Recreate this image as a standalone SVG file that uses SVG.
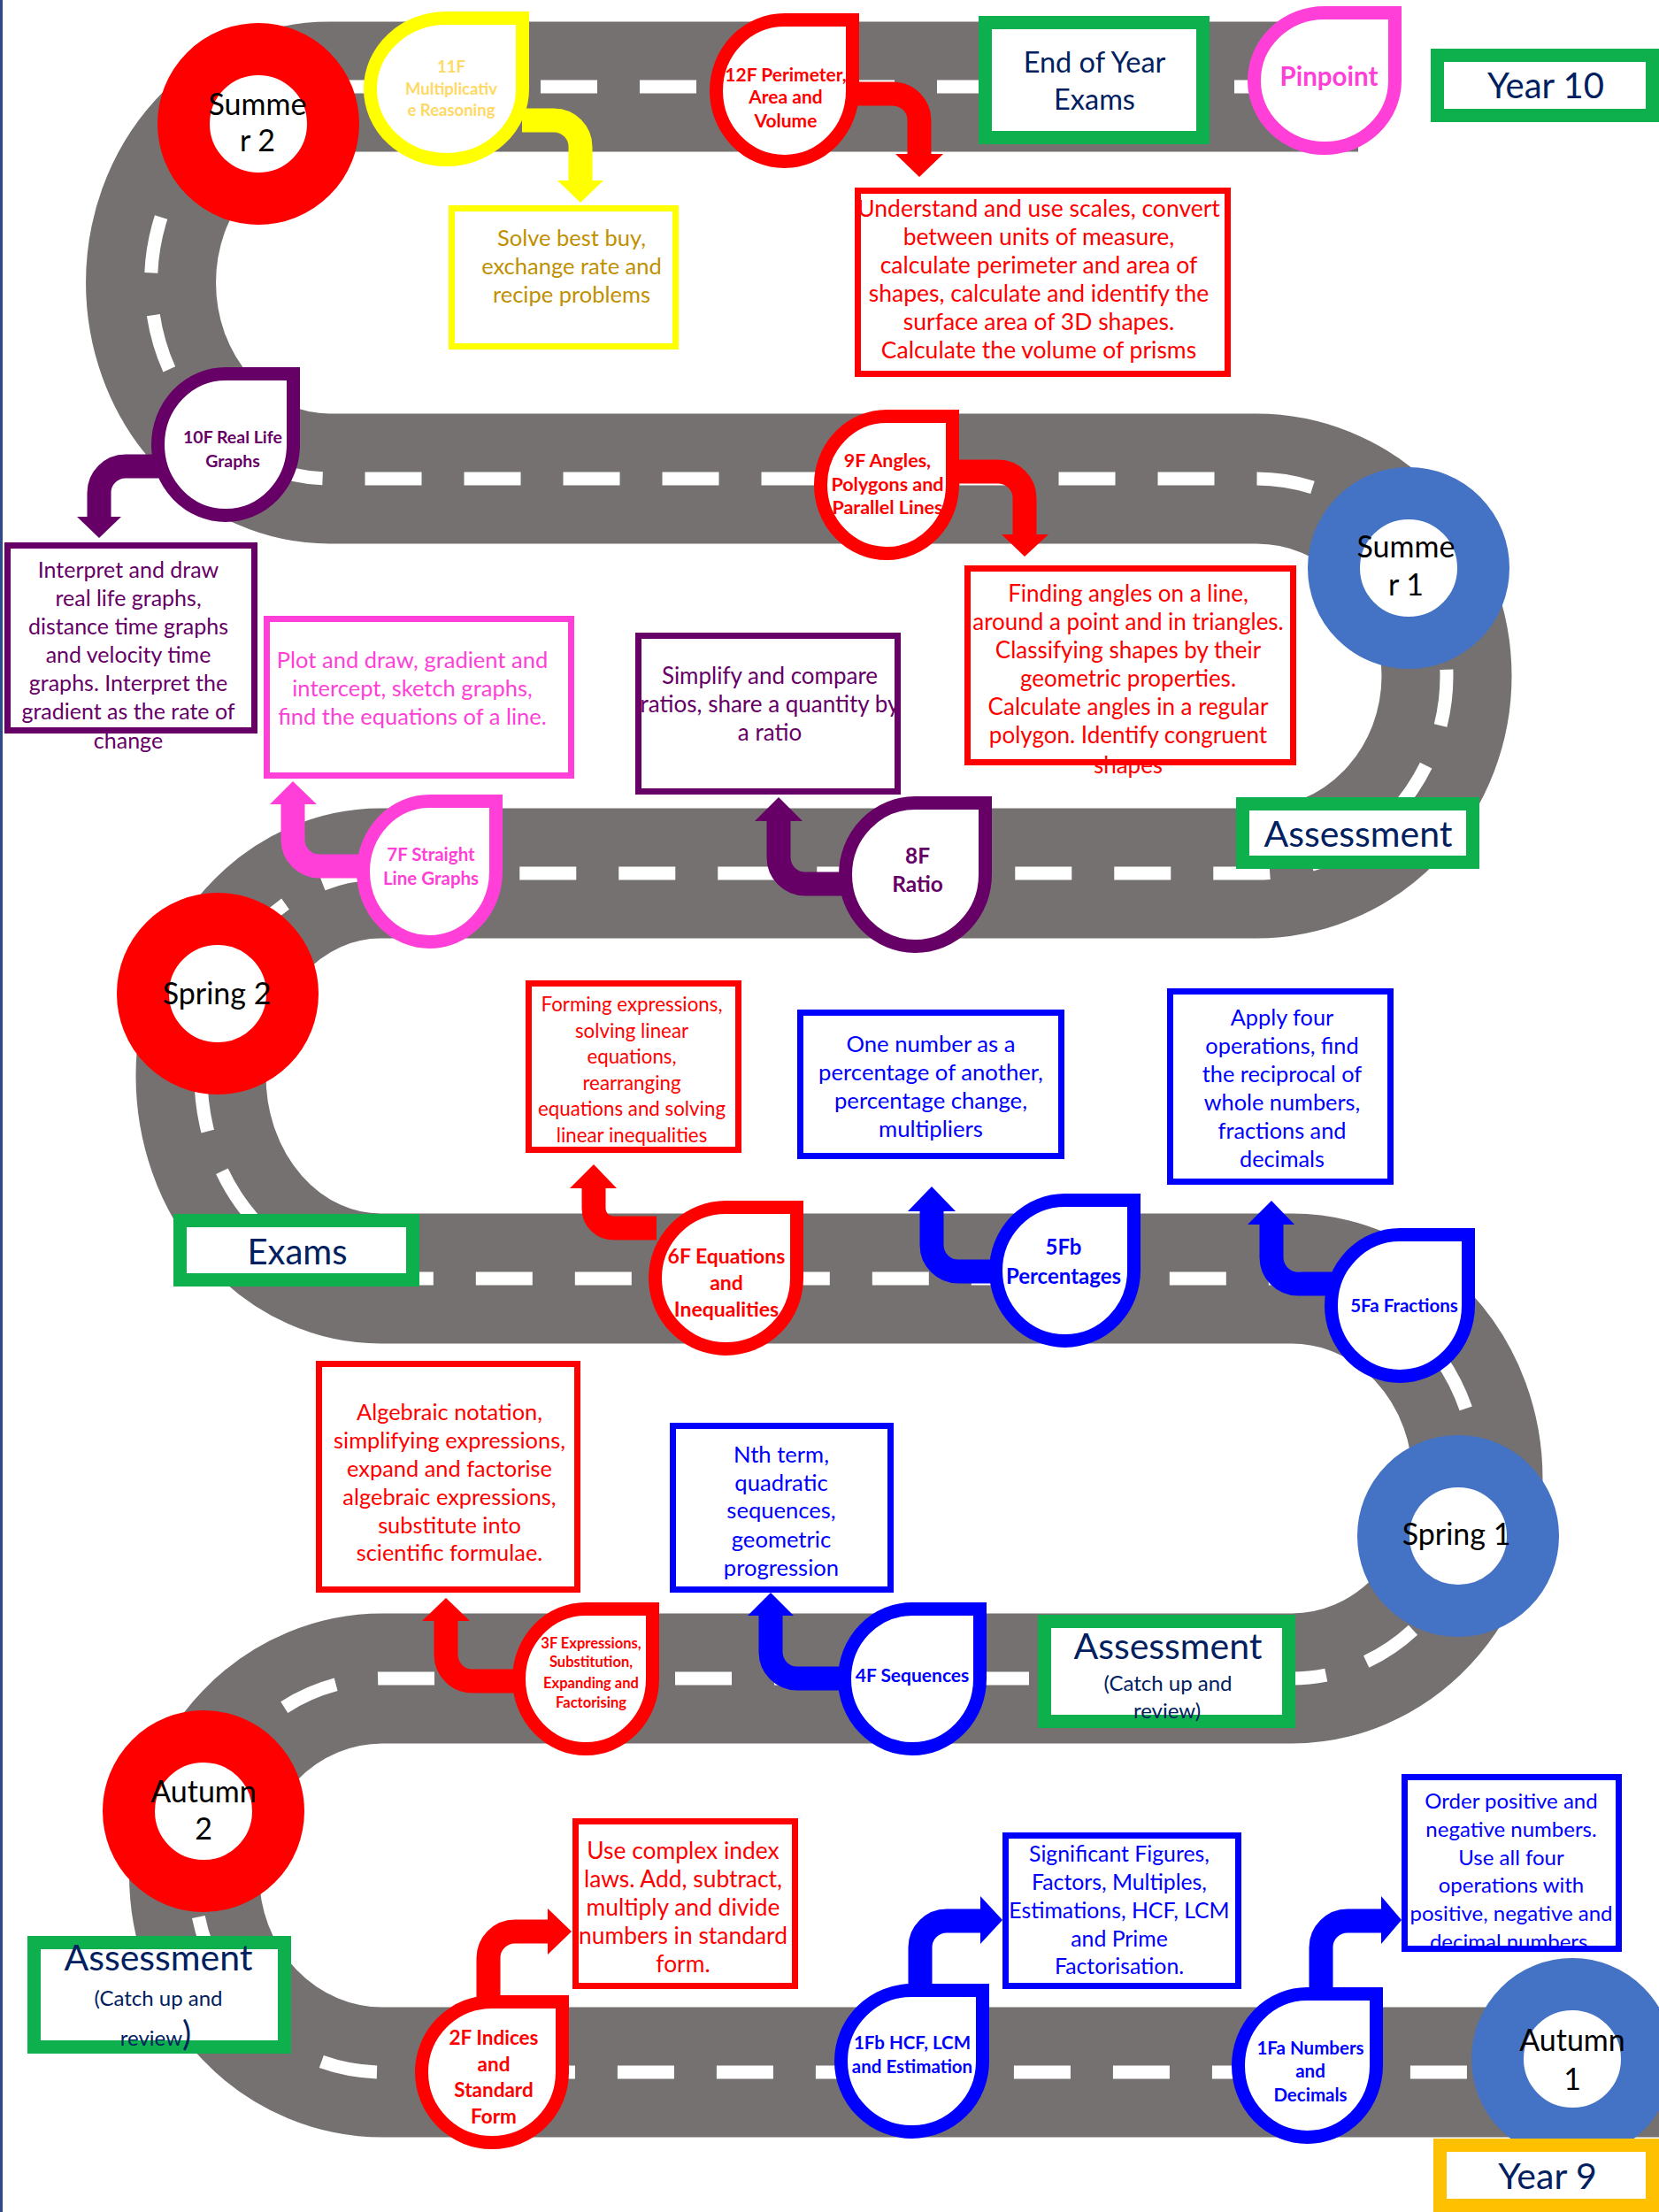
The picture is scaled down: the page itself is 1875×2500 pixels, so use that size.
<svg xmlns="http://www.w3.org/2000/svg" width="1875" height="2500" viewBox="0 0 1875 2500">
<style>
text{font-family:Lato,"Open Sans","Liberation Sans",sans-serif;text-anchor:middle}
.road{fill:none;stroke:#767171;stroke-width:147}
.dash{fill:none;stroke:#fff;stroke-width:15;stroke-dasharray:64 48;stroke-dashoffset:36}
.ring{fill:#fff;stroke-width:59}
.rr{stroke:#FF0000}.rb{stroke:#4472C4}
.ct{font-size:34px;fill:#000}
.box{fill:#fff;stroke-width:7}
.frame{fill:none;stroke-width:7}
.gbox{fill:#fff;stroke:#0EB04E;stroke-width:15}
.drop{fill:#fff;stroke-width:15;stroke-linejoin:miter}
.arr{fill:none;stroke-width:27}
.dt{font-weight:bold}
.nv{fill:#002060}
.sRed{stroke:#FF0000}.fRed{fill:#FF0000}
.sBlue{stroke:#0000FF}.fBlue{fill:#0000FF}
.sPur{stroke:#660066}.fPur{fill:#660066}
.sPink{stroke:#FF3FD7}.fPink{fill:#FF3FD7}
.sYel{stroke:#FFFF00}.fYel{fill:#FFFF00}
</style>
<rect x="0" y="0" width="1875" height="2500" fill="#fff"/>
<line x1="1.5" y1="0" x2="1.5" y2="2500" stroke="#2E4A8A" stroke-width="3"/>
<g id="road">
<path class="road" d="M1535,98 L372,98 A201 221 0 0 0 372,541 L1420,541 A215 223 0 0 1 1420,987 L430,987 A203 229 0 0 0 430,1445 L1460,1445 A210 226 0 0 1 1460,1897 L432,1897 A212 222 0 0 0 432,2342 L1875,2342"/>
<path class="dash" d="M1535,98 L372,98 A201 221 0 0 0 372,541 L1420,541 A215 223 0 0 1 1420,987 L430,987 A203 229 0 0 0 430,1445 L1460,1445 A210 226 0 0 1 1460,1897 L432,1897 A212 222 0 0 0 432,2342 L1875,2342"/>
</g>
<g id="terms">
<g id="summer2"><circle class="ring rr" cx="292" cy="140" r="84.5"/><text class="ct" x="291" y="130">Summe</text><text class="ct" x="291" y="171">r 2</text></g>
<g id="summer1"><circle class="ring rb" cx="1592" cy="642" r="84.5"/><text class="ct" x="1589" y="630">Summe</text><text class="ct" x="1589" y="673">r 1</text></g>
<g id="spring2"><circle class="ring rr" cx="246" cy="1123" r="84.5"/><text class="ct" x="245" y="1135">Spring 2</text></g>
<g id="spring1"><circle class="ring rb" cx="1648" cy="1736" r="84.5"/><text class="ct" x="1646" y="1746">Spring 1</text></g>
<g id="autumn2"><circle class="ring rr" cx="230" cy="2047" r="84.5"/><text class="ct" x="230" y="2037">Autumn</text><text class="ct" x="230" y="2079">2</text></g>
<g id="autumn1"><circle class="ring rb" cx="1777" cy="2327" r="84.5"/><text class="ct" x="1777" y="2318">Autumn</text><text class="ct" x="1777" y="2362">1</text></g>
</g>
<g id="milestones">
<g id="endOfYearExams"><rect class="gbox" x="1113.5" y="25.5" width="246" height="130"/><text class="nv" font-size="32.5" x="1237" y="82">End of Year</text><text class="nv" font-size="32.5" x="1237" y="124">Exams</text></g>
<g id="year10"><rect class="gbox" x="1624.5" y="62.5" width="243" height="68"/><text class="nv" font-size="40" x="1747" y="111">Year 10</text></g>
<g id="assessment1"><rect class="gbox" x="1404.5" y="908.5" width="260" height="66"/><text class="nv" font-size="41" x="1535" y="957">Assessment</text></g>
<g id="exams"><rect class="gbox" x="203.5" y="1379.5" width="263" height="67"/><text class="nv" font-size="40" x="336" y="1429">Exams</text></g>
<g id="assessment2"><rect class="gbox" x="1180.5" y="1832.5" width="276" height="113"/><text class="nv" font-size="41" x="1320" y="1875">Assessment</text><text class="nv" font-size="24" x="1320" y="1911">(Catch up and</text><text class="nv" font-size="24" x="1319" y="1942">review)</text></g>
<g id="assessment3"><rect class="gbox" x="38.5" y="2195.5" width="283" height="118"/><text class="nv" font-size="41" x="179" y="2227">Assessment</text><text class="nv" font-size="24" x="179" y="2267">(Catch up and</text><text class="nv" font-size="24" x="176" y="2312">review<tspan font-size="38">)</tspan></text></g>
<g id="year9"><rect x="1627.5" y="2424.5" width="240" height="68" fill="#fff" stroke="#FFC000" stroke-width="15"/><text class="nv" font-size="41" x="1749" y="2474">Year 9</text></g>
</g>
<g id="connectors">
<path class="arr sYel" d="M590,136 H626 A30 30 0 0 1 656,166 V206"/><polygon class="fYel" points="630,204 682,204 656,229"/>
<path class="arr sRed" d="M965,106 H1009 A30 30 0 0 1 1039,136 V176"/><polygon class="fRed" points="1012,174 1066,174 1039,200"/>
<path class="arr sPur" d="M180,527 H142 A30 30 0 0 0 112,557 V586"/><polygon class="fPur" points="87,584 137,584 112,608"/>
<path class="arr sRed" d="M1078,533 H1128 A30 30 0 0 1 1158,563 V606"/><polygon class="fRed" points="1132,604 1185,604 1158,629"/>
<path class="arr sPur" d="M955,999 H910 A30 30 0 0 1 880,969 V926"/><polygon class="fPur" points="853,928 907,928 880,901"/>
<path class="arr sPink" d="M412,979 H361 A30 30 0 0 1 331,949 V907"/><polygon class="fPink" points="305,909 358,909 331,883"/>
<path class="arr sRed" d="M742,1388 H693 A22 22 0 0 1 671,1366 V1341"/><polygon class="fRed" points="644,1343 697,1343 671,1316"/>
<path class="arr sBlue" d="M1127,1437 H1083 A30 30 0 0 1 1053,1407 V1367"/><polygon class="fBlue" points="1026,1369 1080,1369 1053,1341"/>
<path class="arr sBlue" d="M1506,1451 H1467 A30 30 0 0 1 1437,1421 V1382"/><polygon class="fBlue" points="1410,1384 1463,1384 1437,1357"/>
<path class="arr sRed" d="M588,1900 H534 A30 30 0 0 1 504,1870 V1830"/><polygon class="fRed" points="477,1832 531,1832 504,1806"/>
<path class="arr sBlue" d="M956,1897 H901 A30 30 0 0 1 871,1867 V1824"/><polygon class="fBlue" points="845,1826 897,1826 871,1800"/>
<path class="arr sRed" d="M552,2266 V2213 A30 30 0 0 1 582,2183 H621"/><polygon class="fRed" points="619,2157 619,2209 646,2183"/>
<path class="arr sBlue" d="M1040,2250 V2201 A30 30 0 0 1 1070,2171 H1110"/><polygon class="fBlue" points="1108,2143 1108,2197 1133,2170"/>
<path class="arr sBlue" d="M1493,2254 V2201 A30 30 0 0 1 1523,2171 H1563"/><polygon class="fBlue" points="1561,2143 1561,2197 1584,2170"/>
</g>
<g id="units">
<g id="u11F"><path class="drop sYel" d="M504.5,20.5 H590.5 V100.5 A86 80 0 0 1 504.5,180.5 A86 80 0 0 1 418.5,100.5 A86 80 0 0 1 504.5,20.5 Z"/>
<text class="dt" font-size="18.5" fill="#FFD966" x="510" y="82">11F</text><text class="dt" font-size="18.5" fill="#FFD966" x="510" y="107">Multiplicativ</text><text class="dt" font-size="18.5" fill="#FFD966" x="510" y="131">e Reasoning</text></g>
<g id="u12F"><path class="drop sRed" d="M886.5,22.5 H963.5 V102.5 A77 80 0 0 1 886.5,182.5 A77 80 0 0 1 809.5,102.5 A77 80 0 0 1 886.5,22.5 Z"/>
<text class="dt fRed" font-size="21" x="888" y="92">12F Perimeter,</text><text class="dt fRed" font-size="21" x="888" y="117">Area and</text><text class="dt fRed" font-size="21" x="888" y="144">Volume</text></g>
<g id="pinpoint"><path class="drop sPink" d="M1497,14.5 H1576.5 V91 A79.5 76.5 0 0 1 1497,167.5 A79.5 76.5 0 0 1 1417.5,91 A79.5 76.5 0 0 1 1497,14.5 Z"/>
<text class="dt fPink" font-size="29.5" x="1502" y="97">Pinpoint</text></g>
<g id="u10F"><path class="drop sPur" d="M255,422.5 H331.5 V502.5 A76.5 80 0 0 1 255,582.5 A76.5 80 0 0 1 178.5,502.5 A76.5 80 0 0 1 255,422.5 Z"/>
<text class="dt fPur" font-size="19.5" x="263" y="501">10F Real Life</text><text class="dt fPur" font-size="19.5" x="263" y="528">Graphs</text></g>
<g id="u9F"><path class="drop sRed" d="M1002,470.5 H1076.5 V548 A74.5 77.5 0 0 1 1002,625.5 A74.5 77.5 0 0 1 927.5,548 A74.5 77.5 0 0 1 1002,470.5 Z"/>
<text class="dt fRed" font-size="21.5" x="1003" y="528">9F Angles,</text><text class="dt fRed" font-size="21.5" x="1003" y="555">Polygons and</text><text class="dt fRed" font-size="21.5" x="1003" y="581">Parallel Lines</text></g>
<g id="u8F"><path class="drop sPur" d="M1034.5,907.5 H1113.5 V988.5 A79 81 0 0 1 1034.5,1069.5 A79 81 0 0 1 955.5,988.5 A79 81 0 0 1 1034.5,907.5 Z"/>
<text class="dt fPur" font-size="24.5" x="1037" y="976">8F</text><text class="dt fPur" font-size="24.5" x="1037" y="1008">Ratio</text></g>
<g id="u7F"><path class="drop sPink" d="M485.5,905.5 H560.5 V985 A75 79.5 0 0 1 485.5,1064.5 A75 79.5 0 0 1 410.5,985 A75 79.5 0 0 1 485.5,905.5 Z"/>
<text class="dt fPink" font-size="20.5" x="487" y="973">7F Straight</text><text class="dt fPink" font-size="20.5" x="487" y="1000">Line Graphs</text></g>
<g id="u6F"><path class="drop sRed" d="M820.5,1364.5 H900.5 V1444.5 A80 80 0 0 1 820.5,1524.5 A80 80 0 0 1 740.5,1444.5 A80 80 0 0 1 820.5,1364.5 Z"/>
<text class="dt fRed" font-size="23" x="821" y="1428">6F Equations</text><text class="dt fRed" font-size="23" x="821" y="1458">and</text><text class="dt fRed" font-size="23" x="821" y="1488">Inequalities</text></g>
<g id="u5Fb"><path class="drop sBlue" d="M1203.5,1356.5 H1281.5 V1436 A78 79.5 0 0 1 1203.5,1515.5 A78 79.5 0 0 1 1125.5,1436 A78 79.5 0 0 1 1203.5,1356.5 Z"/>
<text class="dt fBlue" font-size="24" x="1202" y="1418">5Fb</text><text class="dt fBlue" font-size="24" x="1202" y="1451">Percentages</text></g>
<g id="u5Fa"><path class="drop sBlue" d="M1582,1395.5 H1659.5 V1475.5 A77.5 80 0 0 1 1582,1555.5 A77.5 80 0 0 1 1504.5,1475.5 A77.5 80 0 0 1 1582,1395.5 Z"/>
<text class="dt fBlue" font-size="20.5" x="1587" y="1483">5Fa Fractions</text></g>
<g id="u3F"><path class="drop sRed" d="M662,1818.5 H737.5 V1897.5 A75.5 79 0 0 1 662,1976.5 A75.5 79 0 0 1 586.5,1897.5 A75.5 79 0 0 1 662,1818.5 Z"/>
<text class="dt fRed" font-size="16.5" x="668" y="1863">3F Expressions,</text><text class="dt fRed" font-size="16.5" x="668" y="1884">Substitution,</text><text class="dt fRed" font-size="16.5" x="668" y="1908">Expanding and</text><text class="dt fRed" font-size="16.5" x="668" y="1930">Factorising</text></g>
<g id="u4F"><path class="drop sBlue" d="M1031,1818.5 H1107.5 V1897.5 A76.5 79 0 0 1 1031,1976.5 A76.5 79 0 0 1 954.5,1897.5 A76.5 79 0 0 1 1031,1818.5 Z"/>
<text class="dt fBlue" font-size="21" x="1031" y="1901">4F Sequences</text></g>
<g id="u2F"><path class="drop sRed" d="M556,2262.5 H635.5 V2342 A79.5 79.5 0 0 1 556,2421.5 A79.5 79.5 0 0 1 476.5,2342 A79.5 79.5 0 0 1 556,2262.5 Z"/>
<text class="dt fRed" font-size="22.5" x="558" y="2311">2F Indices</text><text class="dt fRed" font-size="22.5" x="558" y="2341">and</text><text class="dt fRed" font-size="22.5" x="558" y="2370">Standard</text><text class="dt fRed" font-size="22.5" x="558" y="2400">Form</text></g>
<g id="u1Fb"><path class="drop sBlue" d="M1030.5,2249.5 H1110.5 V2329.5 A80 80 0 0 1 1030.5,2409.5 A80 80 0 0 1 950.5,2329.5 A80 80 0 0 1 1030.5,2249.5 Z"/>
<text class="dt fBlue" font-size="20.5" x="1031" y="2316">1Fb HCF, LCM</text><text class="dt fBlue" font-size="20.5" x="1031" y="2343">and Estimation</text></g>
<g id="u1Fa"><path class="drop sBlue" d="M1477.5,2253.5 H1555.5 V2334.5 A78 81 0 0 1 1477.5,2415.5 A78 81 0 0 1 1399.5,2334.5 A78 81 0 0 1 1477.5,2253.5 Z"/>
<text class="dt fBlue" font-size="20.5" x="1481" y="2322">1Fa Numbers</text><text class="dt fBlue" font-size="20.5" x="1481" y="2348">and</text><text class="dt fBlue" font-size="20.5" x="1481" y="2375">Decimals</text></g>
</g>
<g id="details">
<g id="d11F" font-size="25.5"><rect class="box sYel" x="510.5" y="235.5" width="253" height="156"/>
<text fill="#BF9000" x="646" y="278">Solve best buy,</text><text fill="#BF9000" x="646" y="310">exchange rate and</text><text fill="#BF9000" x="646" y="342">recipe problems</text></g>
<g id="d12F" font-size="26.5"><rect class="box sRed" x="969.5" y="215.5" width="418" height="207"/>
<text class="fRed" x="1174" y="245">Understand and use scales, convert</text><text class="fRed" x="1174" y="277">between units of measure,</text><text class="fRed" x="1174" y="309">calculate perimeter and area of</text><text class="fRed" x="1174" y="341">shapes, calculate and identify the</text><text class="fRed" x="1174" y="373">surface area of 3D shapes.</text><text class="fRed" x="1174" y="405">Calculate the volume of prisms</text></g>
<g id="d10F" font-size="25"><rect class="box sPur" x="8.5" y="616.5" width="279" height="209"/>
<text class="fPur" x="145" y="653">Interpret and draw</text><text class="fPur" x="145" y="685">real life graphs,</text><text class="fPur" x="145" y="717">distance time graphs</text><text class="fPur" x="145" y="749">and velocity time</text><text class="fPur" x="145" y="781">graphs. Interpret the</text><text class="fPur" x="145" y="813">gradient as the rate of</text><text class="fPur" x="145" y="846">change</text></g>
<g id="d7F" font-size="25.5"><rect class="box sPink" x="301.5" y="699.5" width="344" height="177"/>
<text class="fPink" x="466" y="755">Plot and draw, gradient and</text><text class="fPink" x="466" y="787">intercept, sketch graphs,</text><text class="fPink" x="466" y="819">find the equations of a line.</text></g>
<g id="d8F" font-size="26"><rect class="box sPur" x="721.5" y="718.5" width="293" height="176"/>
<text class="fPur" x="870" y="773">Simplify and compare</text><text class="fPur" x="870" y="805">ratios, share a quantity by</text><text class="fPur" x="870" y="837">a ratio</text></g>
<g id="d9F" font-size="26">
<text class="fRed" x="1275" y="680">Finding angles on a line,</text><text class="fRed" x="1275" y="712">around a point and in triangles.</text><text class="fRed" x="1275" y="744">Classifying shapes by their</text><text class="fRed" x="1275" y="776">geometric properties.</text><text class="fRed" x="1275" y="808">Calculate angles in a regular</text><text class="fRed" x="1275" y="840">polygon. Identify congruent</text><text class="fRed" x="1275" y="874">shapes</text>
<rect class="frame sRed" x="1093.5" y="642.5" width="368" height="219"/></g>
<g id="d6F" font-size="22.3"><rect class="box sRed" x="597.5" y="1111.5" width="237" height="188"/>
<text class="fRed" x="714" y="1143">Forming expressions,</text><text class="fRed" x="714" y="1173">solving linear</text><text class="fRed" x="714" y="1202">equations,</text><text class="fRed" x="714" y="1232">rearranging</text><text class="fRed" x="714" y="1261">equations and solving</text><text class="fRed" x="714" y="1291">linear inequalities</text></g>
<g id="d5Fb" font-size="25.7"><rect class="box sBlue" x="904.5" y="1144.5" width="295" height="162"/>
<text class="fBlue" x="1052" y="1189">One number as a</text><text class="fBlue" x="1052" y="1221">percentage of another,</text><text class="fBlue" x="1052" y="1253">percentage change,</text><text class="fBlue" x="1052" y="1285">multipliers</text></g>
<g id="d5Fa" font-size="25.3"><rect class="box sBlue" x="1322.5" y="1120.5" width="249" height="215"/>
<text class="fBlue" x="1449" y="1159">Apply four</text><text class="fBlue" x="1449" y="1191">operations, find</text><text class="fBlue" x="1449" y="1223">the reciprocal of</text><text class="fBlue" x="1449" y="1255">whole numbers,</text><text class="fBlue" x="1449" y="1287">fractions and</text><text class="fBlue" x="1449" y="1319">decimals</text></g>
<g id="d3F" font-size="25.4"><rect class="box sRed" x="360.5" y="1541.5" width="292" height="255"/>
<text class="fRed" x="508" y="1605">Algebraic notation,</text><text class="fRed" x="508" y="1637">simplifying expressions,</text><text class="fRed" x="508" y="1669">expand and factorise</text><text class="fRed" x="508" y="1701">algebraic expressions,</text><text class="fRed" x="508" y="1733">substitute into</text><text class="fRed" x="508" y="1764">scientific formulae.</text></g>
<g id="d4F" font-size="25.6"><rect class="box sBlue" x="760.5" y="1611.5" width="246" height="185"/>
<text class="fBlue" x="883" y="1653">Nth term,</text><text class="fBlue" x="883" y="1685">quadratic</text><text class="fBlue" x="883" y="1716">sequences,</text><text class="fBlue" x="883" y="1749">geometric</text><text class="fBlue" x="883" y="1781">progression</text></g>
<g id="d2F" font-size="26.4"><rect class="box sRed" x="650.5" y="2058.5" width="248" height="186"/>
<text class="fRed" x="772" y="2101">Use complex index</text><text class="fRed" x="772" y="2133">laws. Add, subtract,</text><text class="fRed" x="772" y="2165">multiply and divide</text><text class="fRed" x="772" y="2197">numbers in standard</text><text class="fRed" x="772" y="2229">form.</text></g>
<g id="d1Fb" font-size="24.8"><rect class="box sBlue" x="1136.5" y="2074.5" width="263" height="170"/>
<text class="fBlue" x="1265" y="2104">Significant Figures,</text><text class="fBlue" x="1265" y="2136">Factors, Multiples,</text><text class="fBlue" x="1265" y="2168">Estimations, HCF, LCM</text><text class="fBlue" x="1265" y="2200">and Prime</text><text class="fBlue" x="1265" y="2231">Factorisation.</text></g>
<g id="d1Fa" font-size="24"><rect class="box sBlue" x="1587.5" y="2008.5" width="242" height="194"/>
<text class="fBlue" x="1708" y="2044">Order positive and</text><text class="fBlue" x="1708" y="2076">negative numbers.</text><text class="fBlue" x="1708" y="2108">Use all four</text><text class="fBlue" x="1708" y="2139">operations with</text><text class="fBlue" x="1708" y="2171">positive, negative and</text><text class="fBlue" x="1708" y="2203">decimal numbers.</text></g>
</g>
</svg>
